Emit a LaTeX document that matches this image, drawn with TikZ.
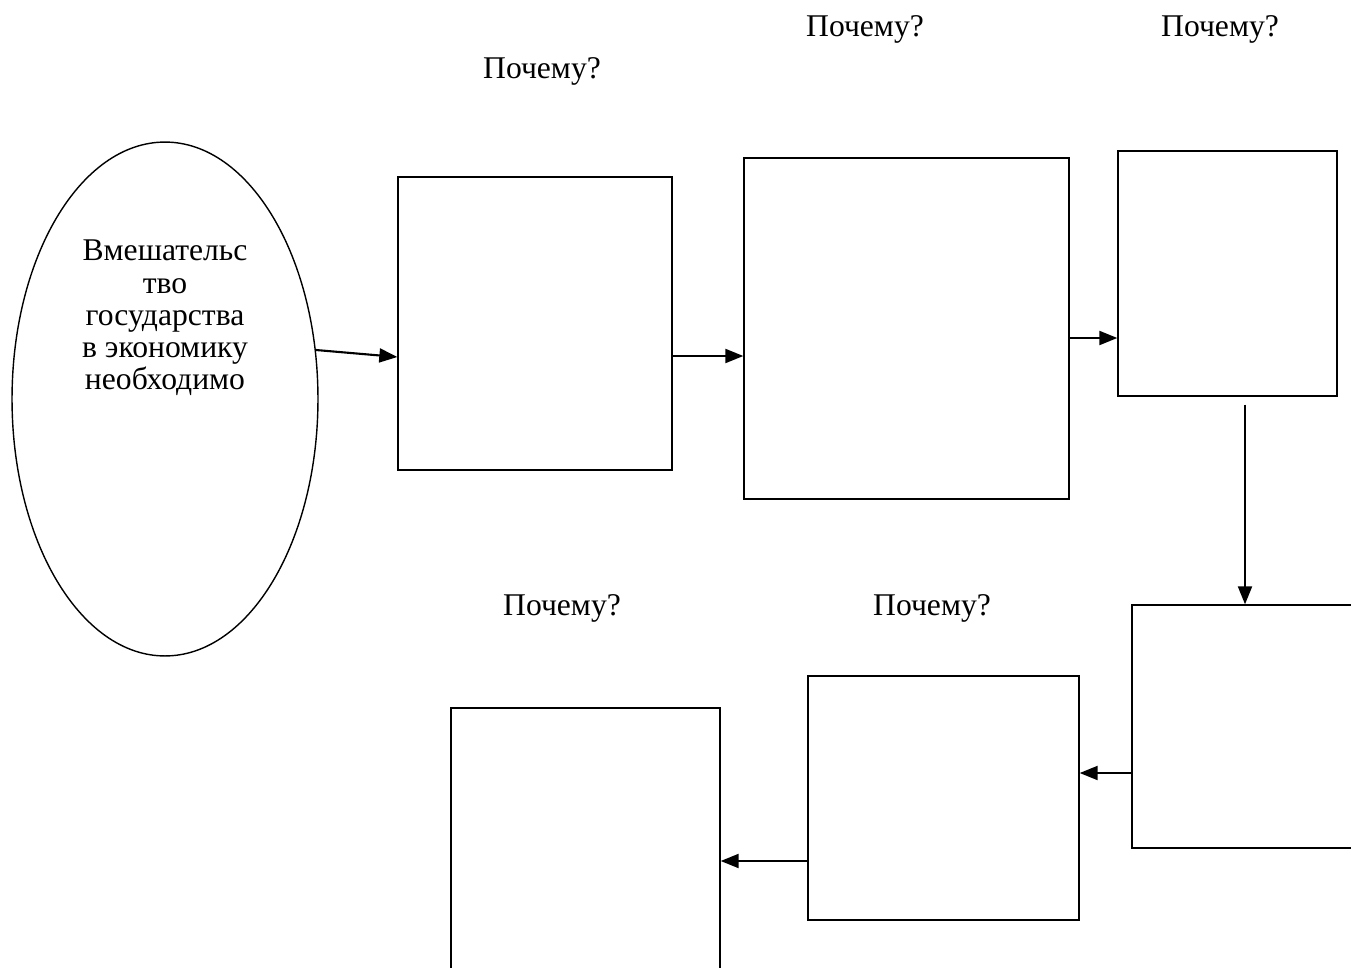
\documentclass[tikz,border=0pt]{standalone}
\usepackage{fontspec}
\setmainfont{Liberation Serif}
\usetikzlibrary{arrows.meta,positioning,shapes.geometric,calc}

\begin{document}
\begin{tikzpicture}[x=0.02cm,y=-0.02cm,font=\fontsize{18}{18.3}\selectfont,
  every node/.style={align=center},
  box/.style={draw,line width=0.8pt,inner sep=0pt},
  arr/.style={-{Triangle[length=0.36cm,width=0.28cm]},line width=1.2pt}]
  \useasboundingbox (0,0) rectangle (1351,967);
  \clip (0,0) rectangle (1351,967);
  \node[ellipse,box,minimum width=6.12cm,minimum height=10.28cm] (goal) at (165,399) {};
  \node (goaltxt) at (165,318) {Вмешательс\\тво\\государства\\в экономику\\необходимо};
  \node[box,minimum width=5.48cm,minimum height=5.86cm] (b1) at (535,323.5) {};
  \node[box,minimum width=6.5cm,minimum height=6.82cm] (b2) at (906.5,328.5) {};
  \node[box,minimum width=4.38cm,minimum height=4.9cm] (b3) at (1227.5,273.5) {};
  \node[box,minimum width=4.86cm,minimum height=4.86cm] (b4) at (1253.5,726.5) {};
  \node[box,minimum width=5.42cm,minimum height=4.88cm] (b5) at (943.5,798) {};
  \node[box,minimum width=5.38cm,minimum height=5.84cm] (b6) at (585.5,854) {};
  \node[anchor=base] (q1) at (542,78) {Почему?};
  \node[anchor=base] (q2) at (865,36) {Почему?};
  \node[anchor=base] (q3) at (1220,36) {Почему?};
  \node[anchor=base] (q4) at (562,615) {Почему?};
  \node[anchor=base] (q5) at (932,615) {Почему?};
  \draw[arr] (goal.18) -- ([yshift=-0.67cm]b1.west);
  \draw[arr] ([yshift=-0.65cm]b1.east) coordinate (p) -- (p -| b2.west);
  \draw[arr] ([yshift=-0.19cm]b2.east) coordinate (p) -- (p -| b3.west);
  \draw[arr] ([xshift=0.35cm,yshift=-0.16cm]b3.south) coordinate (p) -- (p |- b4.north);
  \draw[arr] ([yshift=-0.93cm]b4.west) coordinate (p) -- (p -| b5.east);
  \draw[arr] ([yshift=-1.26cm]b5.west) coordinate (p) -- (p -| b6.east);
\end{tikzpicture}
\end{document}
